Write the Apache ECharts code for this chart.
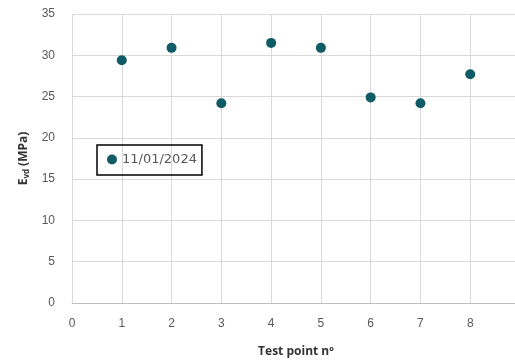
<!DOCTYPE html>
<html><head><meta charset="utf-8">
<script src="https://cdn.jsdelivr.net/npm/echarts@6/dist/echarts.min.js"></script>
<style>html,body{margin:0;padding:0;background:#fff}#c{width:515px;height:361px}</style>
</head><body><div id="c"></div>
<script>
const testPoints = [1, 2, 3, 4, 5, 6, 7, 8];
const evdValues = [29.4, 30.9, 24.2, 31.5, 30.9, 24.9, 24.2, 27.7];
const seriesName = '11/01/2024';
const chart = echarts.init(document.getElementById('c'));
chart.setOption({
  animation: false,
  backgroundColor: '#fff',
  grid: { left: 72, top: 14, width: 448, bottom: 58, outerBoundsMode: 'none', containLabel: false },
  legend: {
    left: 97, top: 145, orient: 'horizontal',
    borderColor: '#000', borderWidth: 1.5, padding: [8, 5, 9, 10],
    itemWidth: 10, itemHeight: 10, itemGap: 4,
    textStyle: { fontFamily: 'DejaVu Sans', fontSize: 13, color: '#595959' },
    data: [{ name: seriesName, icon: 'circle' }]
  },
  xAxis: {
    type: 'value', min: 0, max: 9, interval: 1,
    name: 'Test point nº', nameLocation: 'middle', nameGap: 43,
    nameTextStyle: { fontFamily: 'Open Sans', fontWeight: 'bold', fontSize: 12, color: '#333' },
    axisLine: { show: true, lineStyle: { color: '#bfbfbf', width: 1 } },
    axisTick: { show: false },
    axisLabel: { color: '#595959', fontFamily: 'Liberation Sans', fontSize: 12, margin: 15 },
    splitLine: { show: true, lineStyle: { color: '#d9d9d9', width: 1 } }
  },
  yAxis: {
    type: 'value', min: 0, max: 35, interval: 5,
    name: '{a|E}{b|vd}{a| (MPa)}', nameLocation: 'middle', nameGap: 39, nameRotate: 90,
    nameTextStyle: {
      rich: {
        a: { fontFamily: 'Open Sans', fontWeight: 'bold', fontSize: 12, color: '#333' },
        b: { fontFamily: 'Open Sans', fontWeight: 'bold', fontSize: 8, color: '#333', padding: [6, 0, 0, 0] }
      }
    },
    axisLine: { show: false },
    axisTick: { show: false },
    axisLabel: { color: '#595959', fontFamily: 'Liberation Sans', fontSize: 12, margin: 17 },
    splitLine: { show: true, lineStyle: { color: '#d9d9d9', width: 1 } }
  },
  series: [{
    name: seriesName, type: 'scatter', symbol: 'circle', symbolSize: 10,
    itemStyle: { color: '#0f5b66', opacity: 1 },
    data: testPoints.map((x, i) => [x, evdValues[i]])
  }]
});
</script></body></html>
